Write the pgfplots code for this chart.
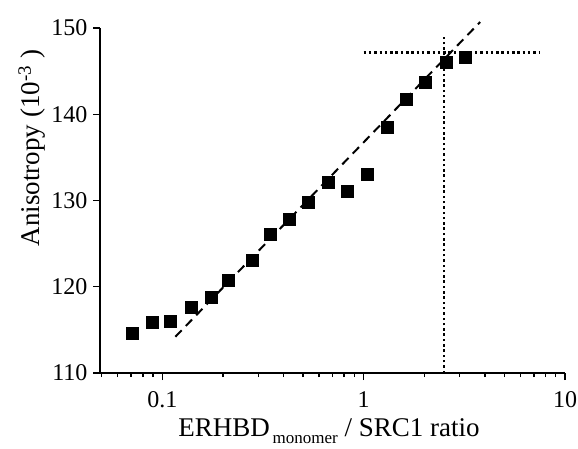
\documentclass[border=0pt]{standalone}
\usepackage{fontspec}
\setmainfont{Liberation Serif}
\usepackage{pgfplots}
\pgfplotsset{compat=1.18}
\begin{document}
\begin{tikzpicture}
  \path[use as bounding box] (-100pt,-75pt) rectangle (478pt,373pt);
  \begin{axis}[
    at={(0pt,0pt)}, anchor=south west,
    scale only axis, width=465pt, height=345pt,
    xmode=log, xmin=0.049, xmax=10, ymin=110, ymax=150,
    axis x line*=bottom, axis y line*=left,
    axis line style={line width=1.4pt, -},
    xtick={0.1,1,10}, xticklabels={0.1,1,10},
    minor xtick={0.05,0.06,0.07,0.08,0.09,0.2,0.3,0.4,0.5,0.6,0.7,0.8,0.9,2,3,4,5,6,7,8,9},
    ytick={110,120,130,140,150},
    tick align=outside,
    major tick length=7pt, minor tick length=4pt,
    every tick/.style={black, line width=1.4pt},
    /pgf/number format/assume math mode=true,
    tick label style={font=\fontsize{24}{28}\selectfont},
    xticklabel style={yshift=-8pt},
    yticklabel style={xshift=-2pt},
    clip=false,
  ]
    % data points
    \addplot[only marks, mark=square*, mark size=6pt, black] coordinates {
      (0.071,114.6) (0.0895,115.9) (0.110,116.05) (0.139,117.6)
      (0.175,118.8) (0.213,120.8) (0.279,123.1) (0.344,126.15)
      (0.427,127.8) (0.532,129.85) (0.670,132.1) (0.826,131.1)
      (1.04,133.0) (1.31,138.55) (1.62,141.76) (2.03,143.7)
      (2.58,146.0) (3.19,146.65)
    };
    % linear fit
    \addplot[black, line width=2pt, dash pattern=on 9pt off 6pt] coordinates {
      (0.116,114.2) (3.79,150.7)
    };
    % saturation guides
    \addplot[black, line width=2.4pt, dash pattern=on 2.5pt off 2.8pt] coordinates {
      (2.51,110) (2.51,149.3)
    };
    \addplot[black, line width=2.4pt, dash pattern=on 2.5pt off 2.8pt] coordinates {
      (1.0,147.15) (7.54,147.15)
    };
  \end{axis}
  \node[rotate=90, anchor=base, font=\fontsize{27}{30}\selectfont]
    at (-60pt,225pt) {Anisotropy (10\textsuperscript{-3} )};
  \node[anchor=base, font=\fontsize{27}{30}\selectfont]
    at (229pt,-63pt)
    {ERHBD\raisebox{-7pt}{\fontsize{17}{19}\selectfont\,monomer} / SRC1 ratio};
\end{tikzpicture}
\end{document}
